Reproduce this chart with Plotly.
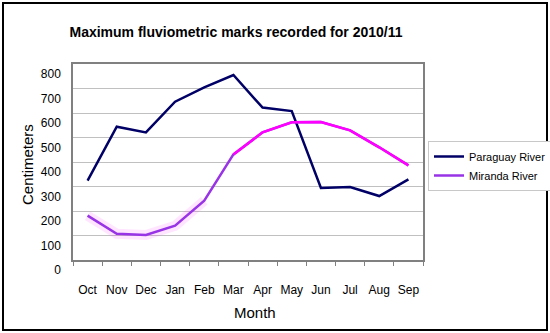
import plotly.graph_objects as go

months = ["Oct", "Nov", "Dec", "Jan", "Feb", "Mar", "Apr", "May", "Jun", "Jul", "Aug", "Sep"]
paraguay = [324, 544, 521, 646, 705, 755, 622, 608, 294, 298, 261, 329]
miranda = [181, 107, 102, 140, 242, 431, 521, 562, 563, 529, 460, 386]
y_ticks = [0, 100, 200, 300, 400, 500, 600, 700, 800]

W, H = 550, 333
L, R, T, B = 73, 127, 64, 73
pw, ph = W - L - R, H - T - B

fig = go.Figure()
fig.add_trace(go.Scatter(x=months, y=paraguay, mode="lines", name="Paraguay River",
                         line=dict(color="#000066", width=2.5)))
# faint pink halo under the purple part (artifact in the original)
fig.add_trace(go.Scatter(x=months[:5], y=miranda[:5], mode="lines", showlegend=False,
                         hoverinfo="skip", line=dict(color="rgba(255,0,255,0.10)", width=10)))
fig.add_trace(go.Scatter(x=months, y=miranda, mode="lines", name="Miranda River",
                         line=dict(color="#9933E6", width=2.5)))
fig.add_trace(go.Scatter(x=months[5:], y=miranda[5:], mode="lines", showlegend=False,
                         hoverinfo="skip", line=dict(color="#FF00FF", width=2.5)))

font = "Liberation Sans, Arial, sans-serif"
fig.update_layout(
    width=W, height=H,
    margin=dict(l=L, r=R, t=T, b=B, autoexpand=False),
    paper_bgcolor="white", plot_bgcolor="white",
    font=dict(family=font, color="black", size=12),
    title=dict(text="<b>Maximum fluviometric marks recorded for 2010/11</b>",
               x=236 / W, xanchor="center", y=1 - 32 / H, yanchor="middle",
               font=dict(size=14, family=font)),
    showlegend=True,
    legend=dict(x=(428 - L) / pw, y=1 - (141 - T) / ph,
                xanchor="left", yanchor="top",
                bordercolor="#c8c8c8", borderwidth=1, bgcolor="white",
                font=dict(size=11, family=font), tracegroupgap=2, itemwidth=30),
    xaxis=dict(type="category", tickson="boundaries", ticks="outside", ticklen=4,
               tickcolor="#808080", showgrid=False, showline=True, linecolor="#808080",
               linewidth=1.5, mirror=True, ticklabelstandoff=18, tickangle=0,
               automargin=False,
               tickfont=dict(size=12), range=[-0.5, 11.5]),
    yaxis=dict(range=[0, 800], tickvals=y_ticks, showgrid=True, gridcolor="#c0c0c0",
               gridwidth=1, showline=True, linecolor="#808080", linewidth=1.5, mirror=True,
               ticks="", ticklabelshift=10, ticklabelstandoff=8, tickfont=dict(size=12),
               zeroline=False, automargin=False),
    annotations=[
        dict(text="Month", xref="paper", yref="paper", x=(255 - L) / pw, y=1 - (312 - T) / ph,
             xanchor="center", yanchor="middle", showarrow=False, font=dict(size=15)),
        dict(text="Centimeters", xref="paper", yref="paper", x=(27 - L) / pw, y=1 - (165 - T) / ph,
             xanchor="center", yanchor="middle", showarrow=False, textangle=-90,
             font=dict(size=15)),
    ],
)

# outer border around the whole chart
fig.add_shape(type="rect", xref="paper", yref="paper",
              x0=(3 - L) / pw, x1=(547 - L) / pw,
              y0=1 - (330 - T) / ph, y1=1 - (3 - T) / ph,
              line=dict(color="black", width=2), layer="above")

fig.write_html("out.html", config={"displayModeBar": False},
               post_script="document.body.style.margin='0';")
